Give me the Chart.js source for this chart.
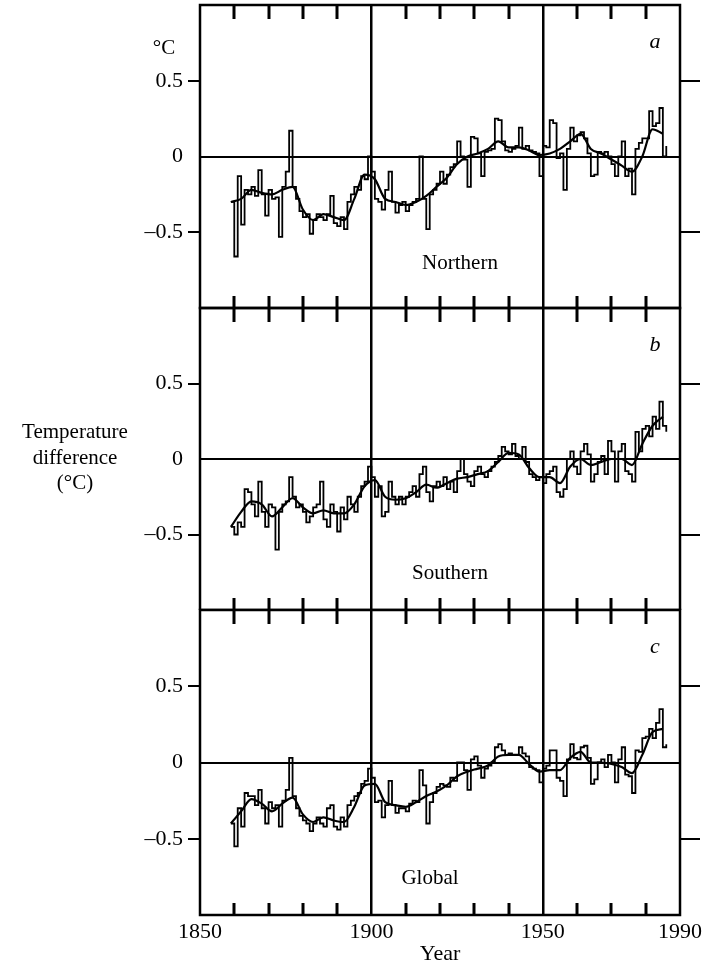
<!DOCTYPE html>
<html lang="en">
<head>
<meta charset="UTF-8">
<title>Temperature difference</title>
<script src="https://cdn.jsdelivr.net/npm/chart.js"></script>
<style>
  body { margin: 0; background: #fff; }
  .wrap { position: relative; width: 709px; height: 969px; }
  .wrap canvas { position: absolute; left: 0; }
</style>
</head>
<body>
<div class="wrap">
  <canvas id="north" width="709" height="312" style="top:0"></canvas>
  <canvas id="south" width="709" height="312" style="top:298px"></canvas>
  <canvas id="global" width="709" height="369" style="top:600px"></canvas>
</div>
<script>
// annual anomalies, one value per year starting at firstYear
const firstYear = 1859;
const northern = [
  -0.30, -0.66, -0.13, -0.45, -0.22, -0.25, -0.20, -0.26, -0.09, -0.25,
  -0.39, -0.22, -0.28, -0.27, -0.53, -0.20, -0.10, 0.17, -0.20, -0.28,
  -0.36, -0.40, -0.38, -0.51, -0.42, -0.38, -0.40, -0.42, -0.38, -0.26,
  -0.44, -0.46, -0.40, -0.48, -0.30, -0.25, -0.20, -0.22, -0.13, -0.15,
  0.00, -0.10, -0.28, -0.30, -0.35, -0.22, -0.10, -0.30, -0.37, -0.32,
  -0.30, -0.36, -0.32, -0.30, -0.28, 0.00, -0.28, -0.48, -0.25, -0.22,
  -0.18, -0.10, -0.18, -0.12, -0.07, -0.05, 0.10, 0.00, -0.02, -0.20,
  0.13, 0.12, 0.02, -0.13, 0.03, 0.04, 0.05, 0.25, 0.24, 0.10,
  0.04, 0.03, 0.05, 0.07, 0.19, 0.05, 0.07, 0.04, 0.03, 0.02,
  -0.13, 0.07, 0.06, 0.24, 0.22, -0.01, 0.02, -0.22, 0.05, 0.19,
  0.10, 0.14, 0.16, 0.12, 0.02, -0.13, -0.12, 0.03, 0.02, 0.03,
  0.00, -0.05, -0.13, 0.00, 0.10, -0.13, -0.08, -0.25, 0.05, 0.09,
  0.12, 0.12, 0.30, 0.20, 0.22, 0.32, 0.00, 0.07
];
const southern = [
  -0.45, -0.50, -0.42, -0.45, -0.20, -0.22, -0.30, -0.38, -0.15, -0.35,
  -0.45, -0.30, -0.32, -0.60, -0.35, -0.30, -0.28, -0.12, -0.25, -0.32,
  -0.30, -0.35, -0.42, -0.38, -0.32, -0.30, -0.15, -0.40, -0.45, -0.30,
  -0.35, -0.48, -0.32, -0.40, -0.25, -0.30, -0.35, -0.25, -0.18, -0.15,
  -0.05, -0.12, -0.25, -0.18, -0.38, -0.35, -0.15, -0.25, -0.30, -0.25,
  -0.30, -0.25, -0.22, -0.18, -0.25, -0.10, -0.05, -0.22, -0.28, -0.18,
  -0.15, -0.18, -0.12, -0.20, -0.15, -0.22, -0.08, 0.00, -0.10, -0.15,
  -0.18, -0.08, -0.05, -0.10, -0.12, -0.08, -0.05, -0.02, 0.02, 0.08,
  0.05, 0.03, 0.10, 0.02, 0.00, 0.08, -0.02, -0.10, -0.12, -0.14,
  -0.12, -0.16, -0.10, -0.08, -0.05, -0.22, -0.25, -0.20, 0.00, 0.05,
  -0.05, -0.10, 0.05, 0.10, 0.03, -0.15, -0.10, -0.02, 0.02, -0.10,
  0.12, 0.05, -0.15, 0.05, 0.10, -0.08, -0.10, -0.15, 0.18, 0.05,
  0.20, 0.22, 0.15, 0.28, 0.20, 0.38, 0.22, 0.18
];
const global = [
  -0.40, -0.55, -0.30, -0.42, -0.20, -0.22, -0.22, -0.28, -0.18, -0.30,
  -0.40, -0.26, -0.30, -0.28, -0.42, -0.25, -0.18, 0.03, -0.22, -0.30,
  -0.35, -0.38, -0.40, -0.45, -0.40, -0.36, -0.40, -0.42, -0.30, -0.28,
  -0.42, -0.44, -0.36, -0.42, -0.28, -0.25, -0.22, -0.20, -0.14, -0.12,
  -0.04, -0.10, -0.26, -0.25, -0.36, -0.28, -0.12, -0.28, -0.33, -0.30,
  -0.30, -0.32, -0.27, -0.25, -0.26, -0.05, -0.15, -0.40, -0.26, -0.20,
  -0.16, -0.14, -0.15, -0.16, -0.10, -0.12, 0.00, 0.00, -0.05, -0.18,
  0.02, 0.04, -0.02, -0.10, -0.04, -0.02, 0.00, 0.10, 0.12, 0.08,
  0.05, 0.06, 0.05, 0.05, 0.10, 0.06, 0.04, -0.03, -0.04, -0.05,
  -0.13, -0.04, -0.02, 0.08, 0.08, -0.10, -0.12, -0.22, 0.02, 0.12,
  0.03, 0.02, 0.10, 0.11, 0.03, -0.14, -0.11, 0.00, 0.02, -0.03,
  0.05, 0.00, -0.13, 0.02, 0.10, -0.08, -0.09, -0.20, 0.08, 0.07,
  0.16, 0.17, 0.22, 0.16, 0.26, 0.35, 0.10, 0.12
];

// smoothed curves, read every third year
const smoothYears = [1859, 1862, 1865, 1868, 1871, 1874, 1877, 1880, 1883, 1886,
  1889, 1892, 1895, 1898, 1901, 1904, 1907, 1910, 1913, 1916, 1919, 1922, 1925,
  1928, 1931, 1934, 1937, 1940, 1943, 1946, 1949, 1952, 1955, 1958, 1961, 1964,
  1967, 1970, 1973, 1976, 1979, 1982, 1985];
const smoothNorthern = [-0.30, -0.28, -0.22, -0.24, -0.25, -0.22, -0.20, -0.35, -0.42, -0.38,
  -0.40, -0.42, -0.28, -0.12, -0.15, -0.28, -0.30, -0.32, -0.30, -0.26, -0.20, -0.14, -0.05,
  0.00, 0.02, 0.05, 0.10, 0.06, 0.06, 0.04, 0.01, 0.02, 0.05, 0.10, 0.15, 0.05,
  0.02, -0.02, -0.06, -0.10, 0.00, 0.18, 0.15];
const smoothSouthern = [-0.45, -0.35, -0.28, -0.30, -0.38, -0.32, -0.26, -0.32, -0.36, -0.34,
  -0.36, -0.36, -0.30, -0.18, -0.14, -0.25, -0.27, -0.26, -0.22, -0.17, -0.19, -0.16, -0.13,
  -0.12, -0.10, -0.08, -0.02, 0.04, 0.03, -0.06, -0.12, -0.12, -0.16, -0.05, 0.00, -0.04,
  -0.02, 0.00, 0.00, -0.04, 0.10, 0.22, 0.28];
const smoothGlobal = [-0.40, -0.32, -0.24, -0.27, -0.32, -0.27, -0.23, -0.34, -0.39, -0.36,
  -0.38, -0.39, -0.29, -0.15, -0.14, -0.26, -0.28, -0.29, -0.26, -0.22, -0.19, -0.15, -0.09,
  -0.06, -0.04, -0.02, 0.04, 0.05, 0.05, -0.01, -0.06, -0.05, -0.05, 0.03, 0.07, 0.00,
  0.00, -0.01, -0.03, -0.07, 0.05, 0.20, 0.22];

const xTickLabels = [1850, 1900, 1950, 1990];
const yTickLabels = { '-0.5': '\u20130.5', '0': '0', '0.5': '0.5' };

const serif = '"Liberation Serif", "DejaVu Serif", serif';

function points(values) {
  return values.map((v, i) => ({ x: firstYear + i, y: v }));
}
function smoothPoints(values) {
  return values.map((v, i) => ({ x: smoothYears[i], y: v }));
}

// no room reserved for the (empty) edge tick labels
function noPad(s) {
  s.paddingTop = 0;
  s.paddingBottom = 0;
}

// frame, inward decade ticks and panel captions
const panelDecor = {
  id: 'panelDecor',
  afterDatasetsDraw(chart, args, opts) {
    const { ctx, chartArea: a, scales } = chart;
    const x = scales.x;
    ctx.save();
    ctx.strokeStyle = '#000';
    ctx.lineWidth = 2.5;
    ctx.strokeRect(a.left, a.top, a.right - a.left, a.bottom - a.top);
    ctx.lineWidth = 3;
    for (let yr = 1860; yr < 1990; yr += 10) {
      if (yr === 1900 || yr === 1950) continue;
      const px = Math.round(x.getPixelForValue(yr));
      ctx.beginPath();
      ctx.moveTo(px, a.top); ctx.lineTo(px, a.top + 14);
      ctx.moveTo(px, a.bottom); ctx.lineTo(px, a.bottom - 12);
      ctx.stroke();
    }
    ctx.fillStyle = '#000';
    ctx.font = 'italic 22px ' + serif;
    ctx.textAlign = 'center';
    ctx.textBaseline = 'middle';
    ctx.fillText(opts.letter, 655, a.top + 37);
    ctx.font = '21px ' + serif;
    ctx.fillText(opts.name, opts.nameX, a.top + opts.nameDy);
    if (opts.unit) {
      ctx.fillText('\u00b0C', 164, a.top + 43);
    }
    if (opts.axisTitle) {
      ctx.fillText('Temperature', 75, 432 - 298);
      ctx.fillText('difference', 75, 458 - 298);
      ctx.fillText('(\u00b0C)', 75, 483 - 298);
    }
    ctx.restore();
  }
};

function makePanel(id, annual, smooth, decor, bottom) {
  return new Chart(document.getElementById(id), {
    type: 'line',
    data: {
      datasets: [
        {
          data: points(annual),
          stepped: true,
          borderColor: '#000',
          borderWidth: 1.8,
          pointRadius: 0
        },
        {
          data: smoothPoints(smooth),
          cubicInterpolationMode: 'monotone',
          borderColor: '#000',
          borderWidth: 2.2,
          pointRadius: 0
        }
      ]
    },
    options: {
      responsive: false,
      animation: false,
      events: [],
      layout: { padding: { top: decor.padTop, bottom: 0, left: 0, right: 0 } },
      plugins: { legend: { display: false }, tooltip: { enabled: false }, panelDecor: decor },
      scales: {
        x: {
          type: 'linear',
          min: 1850,
          max: 1990,
          border: { display: false },
          grid: {
            color: c => (c.tick && (c.tick.value === 1900 || c.tick.value === 1950)) ? '#000' : 'rgba(0,0,0,0)',
            lineWidth: 2.5,
            drawTicks: false
          },
          ticks: {
            display: bottom,
            stepSize: 10,
            autoSkip: false,
            maxRotation: 0,
            padding: 4,
            color: '#000',
            font: { family: serif, size: 22 },
            callback: v => xTickLabels.includes(v) ? String(v) : ''
          },
          title: {
            display: bottom,
            text: 'Year',
            color: '#000',
            font: { family: serif, size: 22 },
            padding: { top: 0, bottom: 2 }
          },
          afterFit: s => { s.height = decor.xHeight; }
        },
        y: {
          position: 'left',
          min: -1,
          max: 1,
          border: { display: false },
          grid: {
            color: c => (c.tick && c.tick.value === 0) ? '#000' : 'rgba(0,0,0,0)',
            tickColor: c => (c.tick && Math.abs(c.tick.value) === 0.5) ? '#000' : 'rgba(0,0,0,0)',
            lineWidth: 2,
            tickLength: 12
          },
          ticks: {
            stepSize: 0.5,
            padding: 5,
            color: '#000',
            font: { family: serif, size: 22 },
            callback: v => yTickLabels[String(v)] || ''
          },
          afterFit: s => { s.width = 200; noPad(s); }
        },
        y2: {
          position: 'right',
          min: -1,
          max: 1,
          border: { display: false },
          grid: {
            drawOnChartArea: false,
            tickColor: c => (c.tick && Math.abs(c.tick.value) === 0.5) ? '#000' : 'rgba(0,0,0,0)',
            lineWidth: 2,
            tickLength: 20
          },
          ticks: { stepSize: 0.5, callback: () => '' },
          afterFit: s => { s.width = 29; noPad(s); }
        }
      }
    },
    plugins: [panelDecor]
  });
}

makePanel('north', northern, smoothNorthern,
  { letter: 'a', name: 'Northern', nameX: 460, nameDy: 258, unit: true, padTop: 5, xHeight: 4 }, false);
makePanel('south', southern, smoothSouthern,
  { letter: 'b', name: 'Southern', nameX: 450, nameDy: 265, axisTitle: true, padTop: 10, xHeight: 0 }, false);
makePanel('global', global, smoothGlobal,
  { letter: 'c', name: 'Global', nameX: 430, nameDy: 268, padTop: 10, xHeight: 54 }, true);
</script>
</body>
</html>
